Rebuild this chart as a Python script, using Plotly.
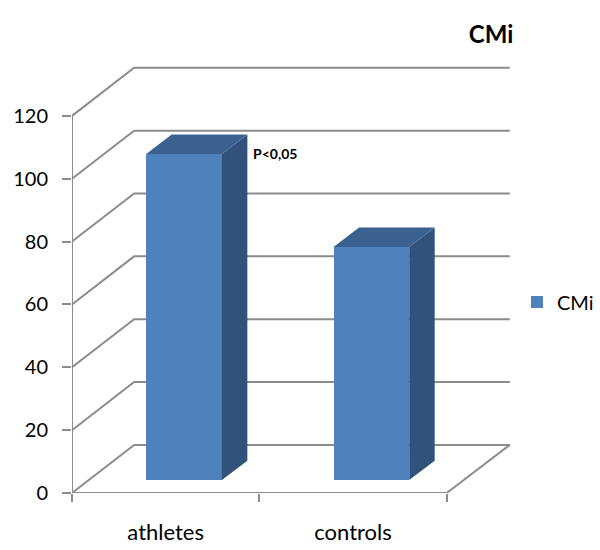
import plotly.graph_objects as go

categories = ["athletes", "controls"]
category_pos = [0, 1]
values = [103.8, 74.2]
y_ticks = [0, 20, 40, 60, 80, 100, 120]
series_name = "CMi"
note_text = "P<0,05"

FONT = "Lato, 'Open Sans', sans-serif"
GRAY = "#8c8c8c"
FRONT = "#4f81bd"
SIDE = "#31527b"
TOP = "#3b6190"

# Pseudo-3D geometry, in axis units
XMIN, XFRONT_END, XBACK_END = -0.5, 1.5, 1.837
WALL_DX, WALL_DY = 0.3316, 15.3
BAR_WIDTH, BAR_OFFSET, BAR_FLOOR = 0.404, -0.104, 4.1
BAR_DX, BAR_DY = 0.136, 6.2
YMAX, XMAX = 136.5, 1.87

fig = go.Figure()

fig.add_trace(go.Bar(
    x=category_pos, y=values, base=[BAR_FLOOR] * 2, width=BAR_WIDTH, offset=BAR_OFFSET,
    marker=dict(color=FRONT, line=dict(width=0)), name=series_name, showlegend=True,
))

for p, v in zip(category_pos, values):
    left = p + BAR_OFFSET
    right = left + BAR_WIDTH
    top = BAR_FLOOR + v
    fig.add_trace(go.Scatter(
        x=[right, right + BAR_DX, right + BAR_DX, right, right],
        y=[BAR_FLOOR, BAR_FLOOR + BAR_DY, top + BAR_DY, top, BAR_FLOOR],
        mode="lines", fill="toself", fillcolor=SIDE, line=dict(width=0),
        showlegend=False, hoverinfo="skip",
    ))
    fig.add_trace(go.Scatter(
        x=[left, left + BAR_DX, right + BAR_DX, right, left],
        y=[top, top + BAR_DY, top + BAR_DY, top, top],
        mode="lines", fill="toself", fillcolor=TOP, line=dict(width=0),
        showlegend=False, hoverinfo="skip",
    ))

# Front axis lines
fig.add_trace(go.Scatter(
    x=[XMIN, XMIN, None, XMIN, XFRONT_END],
    y=[y_ticks[0], y_ticks[-1], None, 0, 0],
    mode="lines", line=dict(color=GRAY, width=2), cliponaxis=False,
    showlegend=False, hoverinfo="skip",
))

# Wall and floor grid, below the traces
for v in y_ticks:
    fig.add_shape(
        type="path", layer="below", xref="x", yref="y",
        path=f"M {XMIN} {v} L {XMIN + WALL_DX} {v + WALL_DY} L {XBACK_END} {v + WALL_DY}",
        line=dict(color=GRAY, width=2),
    )
fig.add_shape(
    type="line", layer="below", xref="x", yref="y",
    x0=XFRONT_END, y0=0, x1=XBACK_END, y1=WALL_DY,
    line=dict(color=GRAY, width=2),
)

fig.add_annotation(
    x=category_pos[0] + BAR_OFFSET + BAR_WIDTH + BAR_DX + 0.02, y=BAR_FLOOR + values[0],
    text=f"<b>{note_text}</b>", showarrow=False, xanchor="left", yanchor="middle",
    font=dict(family=FONT, size=14, color="black"),
)

fig.update_layout(
    width=600, height=550, autosize=False,
    margin=dict(l=72, r=600 - 516, t=64, b=57, pad=0),
    paper_bgcolor="white", plot_bgcolor="white",
    bargap=0,
    title=dict(text=f"<b>{series_name}</b>", x=491 / 600, xref="container", xanchor="center",
               y=1 - 35 / 550, yref="container", yanchor="middle", automargin=False,
               font=dict(family=FONT, size=24, color="black")),
    legend=dict(xref="container", x=517 / 600, yref="container", y=1 - 302 / 550,
                yanchor="middle", xanchor="left",
                font=dict(family=FONT, size=20, color="black"), bgcolor="rgba(0,0,0,0)",
                itemclick=False),
    xaxis=dict(
        range=[XMIN, XMAX], tickvals=category_pos, ticktext=categories, ticks="", showgrid=False,
        zeroline=False, showline=False, ticklabelstandoff=24, automargin=False,
        tickfont=dict(family=FONT, size=22, color="black"),
        minor=dict(tickvals=[-0.5, 0.5, 1.5], ticks="outside", ticklen=8, tickwidth=2,
                   tickcolor=GRAY, showgrid=False),
    ),
    yaxis=dict(
        range=[0, YMAX], tickvals=y_ticks, ticks="outside", ticklen=9, tickwidth=2, tickcolor=GRAY,
        showgrid=False, zeroline=False, showline=False, ticklabelstandoff=10, automargin=False,
        tickfont=dict(family=FONT, size=20, color="black"),
    ),
)

fig.write_html("out.html", config={"displayModeBar": False},
               post_script="document.body.style.margin='0';")
